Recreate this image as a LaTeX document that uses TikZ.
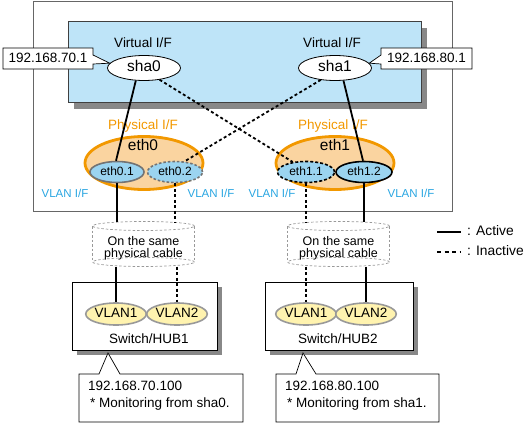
\documentclass[tikz,border=0pt]{standalone}
\usepackage{fontspec}
\setmainfont{Liberation Sans}
\usetikzlibrary{shapes.geometric,calc}
\definecolor{vifblue}{RGB}{190,228,248}
\definecolor{vlanblue}{RGB}{155,212,240}
\definecolor{physfill}{RGB}{250,212,160}
\definecolor{physline}{RGB}{242,152,0}
\definecolor{viftext}{RGB}{40,165,225}
\definecolor{hubfill}{RGB}{255,243,175}
\definecolor{shadowgray}{RGB}{136,136,136}
\begin{document}
\begin{tikzpicture}[x=1pt,y=-1pt,
  fs/.style={font=\fontsize{#1}{#1}\selectfont},
  lbl/.style={inner sep=0pt, text height=.72em, text depth=0pt, fs=13.5},
  shanode/.style={ellipse, draw=black, line width=0.8pt, fill=white, minimum width=73pt, minimum height=25pt, inner sep=0pt, text height=.72em, text depth=0pt, fs=15.5},
  physnode/.style={ellipse, draw=physline, line width=2.8pt, fill=physfill, minimum width=118pt, minimum height=53pt, inner sep=0pt},
  vlannode/.style={ellipse, fill=vlanblue, line width=1.6pt, minimum width=#1, minimum height=21pt, inner sep=0pt, text height=.72em, text depth=0pt, fs=12},
  hubnode/.style={ellipse, fill=hubfill, draw=black!40, line width=1.6pt, minimum width=59pt, minimum height=22pt, inner sep=0pt, text height=.72em, text depth=0pt, fs=13.5},
  callout/.style={draw=black, line width=0.7pt, fill=white},
  hubbox/.style={draw=black, line width=0.8pt, fill=white},
  cyl/.style={draw=black!40, line width=0.7pt, dash pattern=on 2.5pt off 2pt},
  act/.style={line width=1.8pt},
  inact/.style={line width=1.8pt, dash pattern=on 3pt off 2.5pt},
  iflbl/.style={lbl, fs=11.5, text=viftext}
]
\useasboundingbox (0,0) rectangle (528,423);
% outer frame
\draw[draw=black!60, line width=0.8pt] (33,1) rectangle (452,211);
% virtual I/F area
\fill[shadowgray] (74,28) rectangle (427,109);
\draw[fill=vifblue, draw=black!75, line width=0.8pt] (68,21) rectangle (421,102);
\node[lbl] (vif0) at (143,44) {Virtual I/F};
\node[lbl] (vif1) at (332,44) {Virtual I/F};
\node[shanode] (sha0) at (144,68) {sha0};
\node[shanode] (sha1) at (335,68) {sha1};
% IP callouts
\draw[callout] (3,48) -- (93,48) -- (93,55) -- (sha0.172) -- (93,64) -- (93,69) -- (3,69) -- cycle;
\node[lbl] (ip0) at (48,58.5) {192.168.70.1};
\draw[callout] (472,48) -- (381,48) -- (381,55) -- (sha1.8) -- (381,64) -- (381,69) -- (472,69) -- cycle;
\node[lbl] (ip1) at (426.5,58.5) {192.168.80.1};
% physical I/F
\node[lbl, text=physline] (ph0) at (143,126) {Physical I/F};
\node[lbl, text=physline] (ph1) at (333,126) {Physical I/F};
\node[physnode] (eth0) at (144,163) {};
\node[physnode] (eth1) at (335,163) {};
\node[lbl, fs=15.5] (eth0l) at (143,147) {eth0};
\node[lbl, fs=15.5] (eth1l) at (335,147) {eth1};
\node[vlannode=54pt, draw=black!55] (eth01) at (117,172) {eth0.1};
\node[vlannode=55pt, draw=black!55, dash pattern=on 2.5pt off 2pt] (eth02) at (175,172) {eth0.2};
\node[vlannode=57pt, draw=black, dash pattern=on 3pt off 2pt] (eth11) at (306,172) {eth1.1};
\node[vlannode=56pt, draw=black] (eth12) at (364,172) {eth1.2};
% VLAN I/F labels
\node[iflbl] (vl0) at (65,194) {VLAN I/F};
\node[iflbl] (vl1) at (211,194) {VLAN I/F};
\node[iflbl] (vl2) at (272,194) {VLAN I/F};
\node[iflbl] (vl3) at (411,194) {VLAN I/F};
% connectors virtual -> vlan
\draw[act] (sha0.237) -- (eth01.95);
\draw[act] (sha1.-56) -- (eth12.95);
\draw[inact] (sha0.-37) -- (eth11.143);
\draw[inact] (sha1.220) -- (eth02.48);
% cylinders
\foreach \cx/\nm in {143.5/cyl0, 338.5/cyl1} {
  \draw[cyl] (\cx,226) ellipse [x radius=51pt, y radius=4.5pt];
  \draw[cyl] (\cx,262) ellipse [x radius=51pt, y radius=4.5pt];
  \draw[cyl] (\cx-51,226) -- (\cx-51,262) (\cx+51,226) -- (\cx+51,262);
  \node[lbl, fs=12.5] (\nm a) at (\cx,242) {On the same};
  \node[lbl, fs=12.5] (\nm b) at (\cx,254) {physical cable};
}
\coordinate (ctop) at (0,222);
\coordinate (cbot) at (0,266.5);
% switches
\fill[shadowgray] (77,287) rectangle (222,355);
\draw[hubbox] (72,282) rectangle (217,350);
\fill[shadowgray] (270,287) rectangle (418,355);
\draw[hubbox] (265,282) rectangle (413,350);
\node[hubnode] (v01) at (116,314) {VLAN1};
\node[hubnode] (v02) at (177,314) {VLAN2};
\node[hubnode] (v11) at (306,314) {VLAN1};
\node[hubnode] (v12) at (366,314) {VLAN2};
\node[lbl] (hub0) at (149,340) {Switch/HUB1};
\node[lbl] (hub1) at (338,340) {Switch/HUB2};
% vertical connectors
\draw[act] (eth01.south) -- (eth01.south |- ctop);
\draw[act] (v01.north |- cbot) -- (v01.north);
\draw[inact] (eth02.south) -- (eth02.south |- ctop);
\draw[inact] (v02.north |- cbot) -- (v02.north);
\draw[inact] (eth11.south) -- (eth11.south |- ctop);
\draw[inact] (v11.north |- cbot) -- (v11.north);
\draw[act] (eth12.south) -- (eth12.south |- ctop);
\draw[act] (v12.north |- cbot) -- (v12.north);
% bottom callouts
\coordinate (tip0) at (108,353);
\coordinate (tip1) at (303,353);
\draw[callout] (79,374) -- (99,374) -- (tip0) -- (120,374) -- (243,374) -- (243,422) -- (79,422) -- cycle;
\draw[callout] (276,374) -- (296,374) -- (tip1) -- (316,374) -- (439,374) -- (439,422) -- (276,422) -- cycle;
\node[lbl, anchor=west] (m0a) at (88,387) {192.168.70.100};
\node[lbl, anchor=west] (m0b) at (90,404) {* Monitoring from sha0.};
\node[lbl, anchor=west] (m1a) at (285,387) {192.168.80.100};
\node[lbl, anchor=west] (m1b) at (287,404) {* Monitoring from sha1.};
% legend
\coordinate (la0) at (437,232); \coordinate (la1) at (461,232);
\coordinate (li0) at (437,252); \coordinate (li1) at (461,252);
\draw[line width=1.6pt] (la0) -- (la1);
\draw[line width=1.6pt, dash pattern=on 4pt off 3.5pt] (li0) -- (li1);
\node[lbl, anchor=west, fs=13.8] (lat) at (467,232) {: Active};
\node[lbl, anchor=west, fs=13.8] (lit) at (467,252) {: Inactive};
\end{tikzpicture}
\end{document}
